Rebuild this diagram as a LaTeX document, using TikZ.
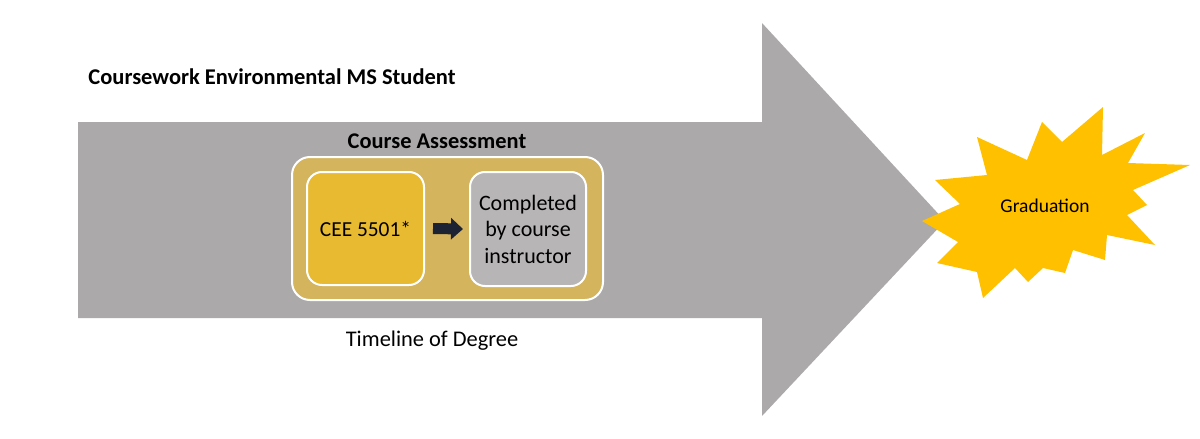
\documentclass[tikz,border=0pt]{standalone}
\usepackage{fontspec}
\setmainfont{Carlito}
\usetikzlibrary{arrows.meta}

\definecolor{arrowgray}{RGB}{172,169,170}
\definecolor{boxtan}{RGB}{212,180,92}
\definecolor{boxgold}{RGB}{232,186,50}
\definecolor{boxgray}{RGB}{184,181,182}
\definecolor{stargold}{RGB}{255,192,0}
\definecolor{navy}{RGB}{28,36,52}

\begin{document}
\begin{tikzpicture}[x=1pt,y=-1pt,
	box/.style={draw=white, line width=2pt, rounded corners=15pt, align=center, inner sep=0pt},
	blockarrow/.style={draw=navy, line width=11pt, -{Triangle[length=12pt,width=21pt]}}]
			\useasboundingbox (0,0) rectangle (1200,439);
			
			% timeline arrow
			\fill[arrowgray] (78,122) -- (762,122) -- (762,23) -- (945,221) -- (762,416) -- (762,318) -- (78,318) -- cycle;
			
			% graduation burst
			\fill[stargold] (922,221) -- (960,204) -- (935,180) -- (987,175) -- (977,137) -- (1027,160)
				-- (1042,122) -- (1062,142) -- (1103,107) -- (1102,155) -- (1145,133) -- (1128,163)
				-- (1190,165) -- (1133,190) -- (1147,205) -- (1127,215) -- (1155,245) -- (1107,235)
				-- (1105,260) -- (1073,250) -- (1065,273) -- (1043,268) -- (1028,282) -- (1015,268)
				-- (983,298) -- (977,272) -- (937,263) -- (958,242) -- cycle;
			
			\node	(title) at (272,77) [font=\fontsize{22.5}{26}\selectfont\bfseries] {Coursework Environmental MS Student};
			\node	(assess) at (447.5,228.5) [box, fill=boxtan, rounded corners=18pt, minimum width=311pt, minimum height=143pt] {};
			\node	(head) at (437,141) [font=\fontsize{22.4}{26}\selectfont\bfseries] {Course Assessment};
			\node	(cee) at (365.5,228.5) [box, fill=boxgold, minimum width=117pt, minimum height=113pt, font=\fontsize{21.4}{26}\selectfont] {CEE 5501*};
			\node	(done) at (528,229) [box, fill=boxgray, minimum width=116pt, minimum height=114pt, font=\fontsize{22}{26.5}\selectfont] {Completed\\by course\\instructor};
			\node	(time) at (432,341) [font=\fontsize{22.4}{26}\selectfont] {Timeline of Degree};
			\node	(grad) at (1045,206) [font=\fontsize{19.5}{22}\selectfont] {Graduation};
			
			\draw 
			([xshift=8pt]cee.east) edge[blockarrow] ([xshift=-6pt]done.west)
			;
		\end{tikzpicture}
\end{document}
